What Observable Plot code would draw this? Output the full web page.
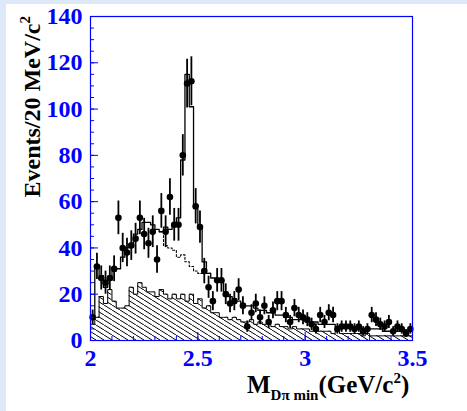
<!DOCTYPE html>
<html><head><meta charset="utf-8">
<script src="https://cdn.jsdelivr.net/npm/d3@7"></script>
<script src="https://cdn.jsdelivr.net/npm/@observablehq/plot@0.6"></script>
<style>
html,body{margin:0;padding:0;}
body{width:467px;height:411px;background:#dde9f9;position:relative;overflow:hidden;}
#panel{position:absolute;left:6px;top:4px;right:0;bottom:0;background:#fff;}
#chart{position:absolute;left:0;top:0;}
#xtitle{position:absolute;left:247px;top:366px;font-family:"Liberation Serif",serif;font-weight:bold;font-size:25px;color:#000;white-space:nowrap;line-height:25px;}
#xtitle sub{font-size:15px;vertical-align:-7px;}
#xtitle sup{font-size:15px;vertical-align:10px;}
</style></head><body>
<div id="panel"></div><div id="chart"></div>
<div id="xtitle">M<sub>Dπ min</sub>(GeV/c<sup>2</sup>)</div>
<script>
// bins: 20 MeV wide from 2.00 to 3.50 GeV/c^2
const binLow = 2.0, binWidth = 0.02, nBins = 75;

// observed events per bin
const dataCounts = [10,32,27,25,27,31,53,40,38,41,44,53,46,42,47,35,56,47,62,50,
  50,80,111,112,58,49,30,23,17,26,26,20,16,17,22,15,6,12,16,10,
  15,8,13,17,17,11,8,14,11,10,9,7,5,11,8,12,11,5,6,6,
  6,5,6,4,5,11,9,7,6,8,4,6,5,3,5];

// total fit (solid histogram)
const fitTotal = [10,32,28,23,26,30,31,36,40,42,46,48,51,51,50,48,47,49,48,50,
  53,78,115,101,57,49,34,29,27,26,26,21,19,18,17,16,15,15,14,13,
  13,12,12,11,11,10,10,9,9,9,8,8,8,7,7,7,7,6,6,6,
  6,6,5,5,5,5,5,5,4,4,4,4,4,4,4];

// non-resonant component (dotted), from bin index 16 to 27
const bgStartBin = 16;
const bgValues = [47,41,40,39,36,37,34,32,30,29,29,29];

// sideband (hatched histogram)
const sideband = [7,10,19,16,22,17,14,14,15,23,20,25,23,21,21,19,22,20,18,20,
  18,20,17,20,16,18,14,15,12,12,10,10,9,10,9,8,8,9,7,8,
  7,7,6,7,6,6,5,6,5,5,5,4,5,4,4,4,3,4,3,3,
  3,3,3,2,3,2,2,2,2,2,2,2,2,2,2];

const xTicks = [2, 2.5, 3, 3.5];
const yTicks = [0, 20, 40, 60, 80, 100, 120, 140];

const edges = d3.range(nBins + 1).map(i => +(binLow + i * binWidth).toFixed(3));
const stepData = (arr, start = 0) => arr.map((v, i) => ({x: edges[start + i], y: v}))
  .concat([{x: edges[start + arr.length], y: arr[arr.length - 1]}]);
const pts = dataCounts.map((n, i) => ({x: (edges[i] + edges[i + 1]) / 2, n}));

const blue = "#0000ff";
const font = "Liberation Serif";

const plot = Plot.plot({
  width: 467, height: 411,
  marginLeft: 90, marginRight: 55, marginTop: 16, marginBottom: 71,
  x: {domain: [2, 3.5]},
  y: {domain: [0, 140]},
  style: {background: "transparent", overflow: "visible", fontFamily: font},
  marks: [
    Plot.areaY(stepData(sideband), {x: "x", y: "y", curve: "step-after", fill: "url(#hatch)"}),
    Plot.lineY(stepData(sideband), {x: "x", y: "y", curve: "step-after", stroke: "black", strokeWidth: 1}),
    Plot.lineY(stepData(bgValues, bgStartBin), {x: "x", y: "y", curve: "step-after", stroke: "black", strokeWidth: 1.1, strokeDasharray: "2,2"}),
    Plot.lineY(stepData(fitTotal), {x: "x", y: "y", curve: "step-after", stroke: "black", strokeWidth: 1.3}),
    Plot.ruleX(pts, {x: "x", y1: d => d.n - Math.sqrt(d.n), y2: d => d.n + Math.sqrt(d.n), stroke: "black", strokeWidth: 1.8}),
    Plot.dot(pts, {x: "x", y: "n", r: 3.3, fill: "black"}),
    Plot.frame({stroke: blue, strokeWidth: 1.2}),
    Plot.axisY({ticks: d3.range(0, 141, 5), tickSize: -4, tickFormat: () => "", stroke: blue, label: null}),
    Plot.axisY({ticks: yTicks, tickSize: -8, tickFormat: () => "", stroke: blue, label: null}),
    Plot.axisY({ticks: yTicks, tickSize: 0, tickPadding: 8, fill: blue, fontSize: 24, fontWeight: "bold", label: null}),
    Plot.axisX({ticks: d3.range(2, 3.5001, 0.1), tickSize: -4, tickFormat: () => "", stroke: blue, label: null}),
    Plot.axisX({ticks: xTicks, tickSize: -8, tickFormat: () => "", stroke: blue, label: null}),
    Plot.axisX({ticks: xTicks, tickSize: 0, tickPadding: 8, fill: blue, fontSize: 24, fontWeight: "bold", tickFormat: d => String(d), label: null})
  ]
});

const svg = d3.select(plot);
const defs = svg.insert("defs", ":first-child");
const pat = defs.append("pattern").attr("id", "hatch").attr("patternUnits", "userSpaceOnUse")
  .attr("width", 8).attr("height", 5);
pat.append("path").attr("d", "M0,0L8,5M-8,0L0,5M8,0L16,5").attr("stroke", "black").attr("stroke-width", 1);

svg.append("text")
  .attr("transform", "translate(40,16) rotate(-90)")
  .attr("text-anchor", "end")
  .attr("font-family", font).attr("font-weight", "bold").attr("font-size", 24).attr("fill", "black")
  .call(t => {
    t.append("tspan").text("Events/20 MeV/c");
    t.append("tspan").attr("font-size", 15).attr("dy", -10).text("2");
  });

document.getElementById("chart").appendChild(plot);
</script>
</body></html>
